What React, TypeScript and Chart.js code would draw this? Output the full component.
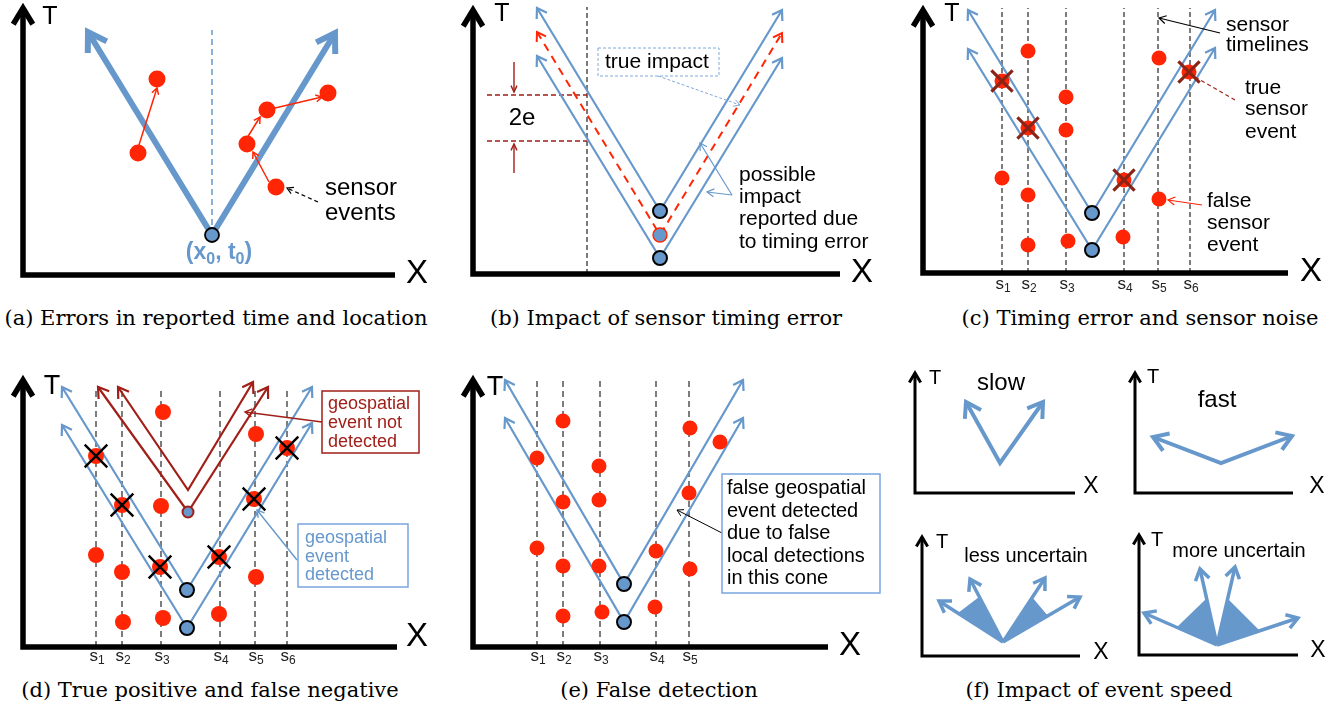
import React, { useEffect, useRef } from "react";
import { Chart, registerables } from "chart.js";

Chart.register(...registerables);

type Pt = [number, number];
type Cone = { left: Pt; apex: Pt; right: Pt };

const BLUE = "#6798CC";
const PALE_BLUE = "#7FA8DA";
const RED = "#FF2505";
const DARK_RED = "#A01F18";
const CROSS_RED = "#8A2416";
const INK = "#000000";
const SENSOR_INK = "#262626";
const SANS = "'Liberation Sans', Arial, Helvetica, sans-serif";
const SERIF = "'DejaVu Serif', 'Liberation Serif', serif";

// ---------------- (a) errors in reported time and location ----------------
const A_AXIS: Pt[] = [[372, 0], [0, 0], [0, 267]];
const A_CONE: Cone = { left: [65, 243], apex: [189, 40], right: [312, 242] };
const A_ORIGIN_LINE: Pt[] = [[189, 40], [189, 245]];
const A_EVENTS: Pt[] = [[134, 196], [115, 122], [244, 165], [305, 182], [224, 131], [253, 88]];
const A_SHIFTS: Pt[][] = [
  [[115, 127], [134, 187]],
  [[224, 137], [237, 158]],
  [[252, 167], [299, 178]],
  [[246, 93], [230, 123]],
];
const A_POINTER: Pt[] = [[295, 73], [264, 87]];
const A_LABEL = ["sensor", "events"];
const A_LABEL_T = [87, 62];

// ---------------- (b) impact of sensor timing error ----------------
const B_AXIS: Pt[] = [[367, 0], [0, 0], [0, 264]];
const B_SENSOR: Pt[] = [[114, 0], [114, 267]];
const B_UPPER: Cone = { left: [64, 266], apex: [187, 63], right: [309, 264] };
const B_LOWER: Cone = { left: [64, 218], apex: [187, 16], right: [309, 216] };
const B_TRUE: Cone = { left: [64, 242], apex: [187, 39], right: [309, 241] };
const B_ERR_LEVELS = [179, 133];
const B_ERR_ARROWS: Pt[][] = [
  [[41, 212], [41, 182]],
  [[41, 101], [41, 130]],
];
const B_TRUE_POINTER: Pt[] = [[185, 198], [267, 169]];
const B_POSSIBLE_POINTERS: Pt[][] = [
  [[259, 79], [227, 131]],
  [[259, 79], [234, 82]],
];
const B_POSSIBLE_LINES = ["possible", "impact", "reported due", "to timing error"];
const B_POSSIBLE_T = [99, 77, 55, 32];

// ---------------- (c) timing error and sensor noise ----------------
const C_AXIS: Pt[] = [[365, 0], [0, 0], [0, 263]];
const C_SENSOR_X = [79, 105, 143, 201, 235, 267];
const C_SENSOR_LABELS = ["s_1", "s_2", "s_3", "s_4", "s_5", "s_6"];
const C_UPPER: Cone = { left: [45, 263], apex: [169, 60], right: [292, 263] };
const C_LOWER: Cone = { left: [45, 224], apex: [169, 23], right: [292, 225] };
const C_FALSE_EVENTS: Pt[] = [
  [105, 222], [236, 215], [143, 176], [143, 143], [79, 95],
  [105, 78], [236, 74], [105, 28], [145, 32], [200, 36],
];
const C_TRUE_EVENTS: Pt[] = [[79, 192], [105, 145], [201, 93], [266, 201]];
const C_TIMELINE_POINTER: Pt[] = [[297, 240], [236, 255]];
const C_TRUE_POINTER: Pt[] = [[312, 173], [272, 196]];
const C_FALSE_POINTER: Pt[] = [[279, 68], [245, 73]];

// ---------------- (d) true positive and false negative ----------------
const D_AXIS: Pt[] = [[374, 0], [0, 0], [0, 267]];
const D_SENSOR_X = [73, 99, 138, 197, 232, 264];
const D_SENSOR_LABELS = ["s_1", "s_2", "s_3", "s_4", "s_5", "s_6"];
const D_UPPER: Cone = { left: [39, 260], apex: [164, 57], right: [289, 260] };
const D_LOWER: Cone = { left: [39, 222], apex: [164, 19], right: [289, 224] };
const D_MISSED_A: Cone = { left: [95, 260], apex: [165, 157], right: [230, 265] };
const D_MISSED_B: Cone = { left: [75, 260], apex: [165, 135], right: [245, 260] };
const D_FALSE_EVENTS: Pt[] = [
  [140, 235], [233, 213], [138, 141], [73, 92], [99, 75],
  [233, 70], [100, 25], [140, 29], [196, 33],
];
const D_TRUE_EVENTS: Pt[] = [[73, 191], [99, 142], [137, 80], [196, 90], [231, 148], [264, 199]];
const D_MISSED_POINTER: Pt[] = [[299, 225], [222, 235]];
const D_DETECTED_POINTER: Pt[] = [[274, 87], [234, 137]];
const D_MISSED_LINES = ["geospatial", "event not", "detected"];
const D_MISSED_T = [243, 224, 205];
const D_DETECTED_LINES = ["geospatial", "event", "detected"];
const D_DETECTED_T = [109, 90, 72];

// ---------------- (e) false detection ----------------
const E_AXIS: Pt[] = [[355, 0], [0, 0], [0, 267]];
const E_SENSOR_X = [64, 90, 127, 183, 216];
const E_SENSOR_LABELS = ["s_1", "s_2", "s_3", "s_4", "s_5"];
const E_UPPER: Cone = { left: [32, 267], apex: [151, 63], right: [270, 267] };
const E_LOWER: Cone = { left: [32, 229], apex: [151, 25], right: [270, 229] };
const E_EVENTS: Pt[] = [
  [90, 226], [64, 189], [126, 181], [90, 145], [126, 147], [64, 99],
  [90, 81], [126, 81], [90, 31], [129, 35], [217, 219], [247, 205],
  [216, 154], [183, 96], [217, 78], [182, 40],
];
const E_POINTER: Pt[] = [[249, 114], [204, 137]];
const E_LINES = ["false geospatial", "event detected", "due to false", "local detections", "in this cone"];
const E_LINES_T = [159, 136, 114, 91, 69];

// ---------------- (f) impact of event speed ----------------
const F1_AXIS: Pt[] = [[160, 0], [0, 0], [0, 120]];
const F1_CONE: Cone = { left: [51, 91], apex: [85, 30], right: [128, 91] };
const F2_AXIS: Pt[] = [[158, 0], [0, 0], [0, 120]];
const F2_CONE: Cone = { left: [18, 56], apex: [86, 30], right: [157, 57] };
const F3_AXIS: Pt[] = [[158, 0], [0, 0], [0, 119]];
const F3_APEX: Pt = [81, 14];
const F3_TIPS: Pt[] = [[17, 55], [48, 77], [123, 78], [158, 59]];
const F3_SPREAD: Pt[][] = [
  [[81, 14], [36, 43], [57, 59]],
  [[81, 14], [110, 59], [126, 40]],
];
const F4_AXIS: Pt[] = [[159, 0], [0, 0], [0, 120]];
const F4_APEX: Pt = [78, 10];
const F4_TIPS: Pt[] = [[5, 42], [61, 86], [96, 88], [159, 37]];
const F4_SPREAD: Pt[][] = [
  [[78, 10], [38, 28], [68, 57]],
  [[78, 10], [88, 57], [121, 24]],
];

const CAPTIONS = [
  { text: "(a) Errors in reported time and location", cx: 216, cy: 318 },
  { text: "(b) Impact of sensor timing error", cx: 666, cy: 318 },
  { text: "(c) Timing error and sensor noise", cx: 1140, cy: 318 },
  { text: "(d) True positive and false negative", cx: 210, cy: 690 },
  { text: "(e) False detection", cx: 659, cy: 690 },
  { text: "(f) Impact of event speed", cx: 1099, cy: 690 },
];

// ---------------- helpers ----------------
type TextNote = { x: number; t: number; text: string; size: number; color?: string; align?: "left" | "center"; bold?: boolean };
type BoxNote = { x1: number; t1: number; x2: number; t2: number; color: string; width: number; dash?: number[] };
type Spec = {
  left: number; top: number; w: number; h: number; ox: number; oy: number;
  datasets: any[]; texts: TextNote[]; boxes: BoxNote[];
};

const toXY = (pts: Pt[]) => pts.map(([x, y]) => ({ x, y }));

function line(pts: Pt[], color: string, width: number, opts: any = {}) {
  return {
    data: toXY(pts),
    showLine: true,
    borderColor: color,
    backgroundColor: color,
    borderWidth: width,
    pointRadius: 0,
    pointHoverRadius: 0,
    fill: false,
    tension: 0,
    borderJoinStyle: "miter",
    borderCapStyle: "butt",
    clip: false,
    ...opts,
  };
}

function dots(pts: Pt[], color: string, radius: number, opts: any = {}) {
  return {
    data: toXY(pts),
    showLine: false,
    pointRadius: radius,
    pointHoverRadius: radius,
    pointBackgroundColor: color,
    pointBorderColor: color,
    pointBorderWidth: 0,
    clip: false,
    ...opts,
  };
}

function polygon(pts: Pt[], color: string) {
  return { data: toXY(pts), showLine: false, pointRadius: 0, pointHoverRadius: 0, polyFill: color, clip: false };
}

const vee = (c: Cone): Pt[] => [c.left, c.apex, c.right];

function axisSet(pts: Pt[], width: number, head: number) {
  return line(pts, INK, width, { arrowLen: head, arrowAngle: 31 });
}

function sensorLines(xs: number[], top: number, dash: number[]) {
  return xs.map((x) => line([[x, 0], [x, top]], SENSOR_INK, 1.2, { borderDash: dash }));
}

function block(lines: string[], x: number, ts: number[], size: number, color = INK): TextNote[] {
  return lines.map((text, i) => ({ x, t: ts[i], text, size, color, align: "left" }));
}

function sensorLabels(xs: number[], labels: string[], t: number): TextNote[] {
  return xs.map((x, i) => ({ x: x + 1, t, text: labels[i], size: 17, color: "#222", align: "center" }));
}

function axisLabels(tx: number, tt: number, tSize: number, xx: number, xt: number, xSize: number): TextNote[] {
  return [
    { x: tx, t: tt, text: "T", size: tSize, align: "center" },
    { x: xx, t: xt, text: "X", size: xSize, align: "center" },
  ];
}

function parseRich(s: string) {
  const segs: { text: string; sub: boolean }[] = [];
  let buf = "";
  for (let i = 0; i < s.length; i++) {
    if (s[i] === "_" && i + 1 < s.length) {
      if (buf) segs.push({ text: buf, sub: false });
      buf = "";
      segs.push({ text: s[i + 1], sub: true });
      i++;
    } else buf += s[i];
  }
  if (buf) segs.push({ text: buf, sub: false });
  return segs;
}

function drawRich(ctx: CanvasRenderingContext2D, n: TextNote, px: number, py: number) {
  const weight = n.bold ? "bold" : "normal";
  const main = `${weight} ${n.size}px ${SANS}`;
  const sub = `${weight} ${Math.round(n.size * 0.7)}px ${SANS}`;
  const segs = parseRich(n.text);
  let total = 0;
  const widths = segs.map((sg) => {
    ctx.font = sg.sub ? sub : main;
    const w = ctx.measureText(sg.text).width;
    total += w;
    return w;
  });
  let cx = n.align === "center" ? px - total / 2 : px;
  ctx.textAlign = "left";
  ctx.textBaseline = "middle";
  ctx.fillStyle = n.color || INK;
  segs.forEach((sg, i) => {
    ctx.font = sg.sub ? sub : main;
    ctx.fillText(sg.text, cx, sg.sub ? py + n.size * 0.3 : py);
    cx += widths[i];
  });
}

const polyPlugin = {
  id: "polyFill",
  beforeDatasetsDraw(chart: any) {
    const ctx = chart.ctx;
    chart.data.datasets.forEach((ds: any, i: number) => {
      if (!ds.polyFill) return;
      const pts = chart.getDatasetMeta(i).data;
      if (pts.length < 3) return;
      ctx.save();
      ctx.beginPath();
      pts.forEach((p: any, k: number) => (k === 0 ? ctx.moveTo(p.x, p.y) : ctx.lineTo(p.x, p.y)));
      ctx.closePath();
      ctx.fillStyle = ds.polyFill;
      ctx.fill();
      ctx.restore();
    });
  },
};

const arrowPlugin = {
  id: "arrowheads",
  afterDatasetsDraw(chart: any) {
    const ctx = chart.ctx as CanvasRenderingContext2D;
    chart.data.datasets.forEach((ds: any, i: number) => {
      if (!ds.arrowLen) return;
      const pts = chart.getDatasetMeta(i).data;
      if (pts.length < 2) return;
      const a = ((ds.arrowAngle ?? 33) * Math.PI) / 180;
      const L = ds.arrowLen;
      const head = (tip: any, from: any) => {
        const dx = tip.x - from.x;
        const dy = tip.y - from.y;
        const len = Math.hypot(dx, dy) || 1;
        const bx = -dx / len;
        const by = -dy / len;
        const r1x = bx * Math.cos(a) - by * Math.sin(a);
        const r1y = bx * Math.sin(a) + by * Math.cos(a);
        const r2x = bx * Math.cos(a) + by * Math.sin(a);
        const r2y = -bx * Math.sin(a) + by * Math.cos(a);
        ctx.beginPath();
        ctx.moveTo(tip.x + r1x * L, tip.y + r1y * L);
        ctx.lineTo(tip.x, tip.y);
        ctx.lineTo(tip.x + r2x * L, tip.y + r2y * L);
        ctx.stroke();
      };
      ctx.save();
      ctx.setLineDash([]);
      ctx.strokeStyle = ds.borderColor;
      ctx.lineWidth = ds.arrowWidth ?? ds.borderWidth;
      ctx.lineJoin = "miter";
      ctx.lineCap = "butt";
      head(pts[pts.length - 1], pts[pts.length - 2]);
      if (ds.arrowBoth) head(pts[0], pts[1]);
      ctx.restore();
    });
  },
};

function notesPlugin(spec: Spec) {
  return {
    id: "notes",
    afterDraw(chart: any) {
      const ctx = chart.ctx as CanvasRenderingContext2D;
      const xs = chart.scales.x;
      const ys = chart.scales.y;
      ctx.save();
      spec.boxes.forEach((b) => {
        const x1 = xs.getPixelForValue(b.x1);
        const x2 = xs.getPixelForValue(b.x2);
        const y1 = ys.getPixelForValue(b.t1);
        const y2 = ys.getPixelForValue(b.t2);
        ctx.setLineDash(b.dash || []);
        ctx.strokeStyle = b.color;
        ctx.lineWidth = b.width;
        ctx.strokeRect(x1, y1, x2 - x1, y2 - y1);
      });
      ctx.setLineDash([]);
      spec.texts.forEach((n) => drawRich(ctx, n, xs.getPixelForValue(n.x), ys.getPixelForValue(n.t)));
      ctx.restore();
    },
  };
}

// ---------------- panel specs ----------------
const SPEC_A: Spec = {
  left: 0, top: 0, w: 445, h: 300, ox: 23, oy: 275,
  datasets: [
    axisSet(A_AXIS, 5.5, 19),
    line(A_ORIGIN_LINE, BLUE, 1.5, { borderDash: [6, 4] }),
    line(vee(A_CONE), BLUE, 6, { arrowLen: 21, arrowAngle: 32, arrowBoth: true }),
    ...A_SHIFTS.map((s) => line(s, RED, 1.5, { arrowLen: 7, arrowAngle: 30 })),
    dots(A_EVENTS, RED, 8.5),
    dots([A_CONE.apex], BLUE, 7, { pointBorderColor: INK, pointBorderWidth: 1.8 }),
    line(A_POINTER, INK, 1.2, { borderDash: [4, 3], arrowLen: 7, arrowAngle: 30 }),
  ],
  texts: [
    ...axisLabels(27, 258, 25, 394, 1, 33),
    ...block(A_LABEL, 302, A_LABEL_T, 24),
    { x: 196, t: 22, text: "(x_0, t_0)", size: 23, color: BLUE, align: "center", bold: true },
  ],
  boxes: [],
};

const SPEC_B: Spec = {
  left: 445, top: 0, w: 445, h: 300, ox: 28, oy: 274,
  datasets: [
    line(B_SENSOR, "#333", 1.3, { borderDash: [5, 3] }),
    ...B_ERR_LEVELS.map((t) => line([[14, t], [114, t]], DARK_RED, 1.4, { borderDash: [5, 3] })),
    ...B_ERR_ARROWS.map((s) => line(s, DARK_RED, 1.4, { arrowLen: 7, arrowAngle: 25 })),
    axisSet(B_AXIS, 5.5, 19),
    line(vee(B_UPPER), BLUE, 2.2, { arrowLen: 11, arrowBoth: true }),
    line(vee(B_LOWER), BLUE, 2.2, { arrowLen: 11, arrowBoth: true }),
    line(vee(B_TRUE), RED, 2, { borderDash: [8, 6], arrowLen: 10, arrowBoth: true }),
    dots([B_UPPER.apex, B_LOWER.apex], BLUE, 7, { pointBorderColor: INK, pointBorderWidth: 2 }),
    dots([B_TRUE.apex], BLUE, 7, { pointBorderColor: RED, pointBorderWidth: 1.4 }),
    line(B_TRUE_POINTER, PALE_BLUE, 1, { borderDash: [3, 2], arrowLen: 7, arrowAngle: 30 }),
    ...B_POSSIBLE_POINTERS.map((s) => line(s, BLUE, 1.2, { arrowLen: 8, arrowAngle: 30 })),
  ],
  texts: [
    ...axisLabels(29, 260, 25, 389, 1, 33),
    { x: 49, t: 156, text: "2e", size: 24, align: "center" },
    { x: 132, t: 212, text: "true impact", size: 21 },
    ...block(B_POSSIBLE_LINES, 266, B_POSSIBLE_T, 21),
  ],
  boxes: [{ x1: 125, t1: 226, x2: 246, t2: 198, color: PALE_BLUE, width: 1, dash: [3, 2] }],
};

const SPEC_C: Spec = {
  left: 890, top: 0, w: 450, h: 300, ox: 33, oy: 273,
  datasets: [
    ...sensorLines(C_SENSOR_X, 265, [5, 3]),
    axisSet(C_AXIS, 5.5, 19),
    line(vee(C_UPPER), BLUE, 2.2, { arrowLen: 11, arrowBoth: true }),
    line(vee(C_LOWER), BLUE, 2.2, { arrowLen: 11, arrowBoth: true }),
    dots(C_FALSE_EVENTS, RED, 7.5),
    dots(C_TRUE_EVENTS, RED, 7.5),
    dots(C_TRUE_EVENTS, CROSS_RED, 15, { pointStyle: "crossRot", pointBorderWidth: 3.2, pointBackgroundColor: "rgba(0,0,0,0)" }),
    dots([C_UPPER.apex, C_LOWER.apex], BLUE, 7, { pointBorderColor: INK, pointBorderWidth: 2 }),
    line(C_TIMELINE_POINTER, INK, 1.2, { arrowLen: 8, arrowAngle: 30 }),
    line(C_TRUE_POINTER, DARK_RED, 1.2, { borderDash: [4, 3] }),
    line(C_FALSE_POINTER, RED, 1.2, { arrowLen: 8, arrowAngle: 30 }),
  ],
  texts: [
    ...axisLabels(29, 259, 25, 388, 1, 33),
    ...sensorLabels(C_SENSOR_X, C_SENSOR_LABELS, -11),
    ...block(["sensor", "timelines"], 303, [248, 228], 21),
    ...block(["true", "sensor", "event"], 322, [185, 164, 141], 21),
    ...block(["false", "sensor", "event"], 284, [72, 50, 28], 21),
  ],
  boxes: [],
};

const SPEC_D: Spec = {
  left: 0, top: 340, w: 445, h: 330, ox: 23, oy: 307,
  datasets: [
    ...sensorLines(D_SENSOR_X, 260, [6, 4]),
    axisSet(D_AXIS, 5.5, 19),
    line(vee(D_UPPER), BLUE, 2.2, { arrowLen: 11, arrowBoth: true }),
    line(vee(D_LOWER), BLUE, 2.2, { arrowLen: 11, arrowBoth: true }),
    line(vee(D_MISSED_A), DARK_RED, 2.2, { arrowLen: 12, arrowBoth: true }),
    line(vee(D_MISSED_B), DARK_RED, 2.2, { arrowLen: 12, arrowBoth: true }),
    dots(D_FALSE_EVENTS, RED, 8),
    dots(D_TRUE_EVENTS, RED, 8),
    dots(D_TRUE_EVENTS, INK, 16, { pointStyle: "crossRot", pointBorderWidth: 2.4, pointBackgroundColor: "rgba(0,0,0,0)" }),
    dots([D_MISSED_B.apex], BLUE, 5.5, { pointBorderColor: DARK_RED, pointBorderWidth: 2 }),
    dots([D_UPPER.apex, D_LOWER.apex], BLUE, 7, { pointBorderColor: INK, pointBorderWidth: 2 }),
    line(D_MISSED_POINTER, DARK_RED, 1.4, { arrowLen: 8, arrowAngle: 30 }),
    line(D_DETECTED_POINTER, BLUE, 1.4, { arrowLen: 8, arrowAngle: 30 }),
  ],
  texts: [
    ...axisLabels(29, 260, 27, 394, 10, 33),
    ...sensorLabels(D_SENSOR_X, D_SENSOR_LABELS, -9),
    ...block(D_MISSED_LINES, 305, D_MISSED_T, 18, DARK_RED),
    ...block(D_DETECTED_LINES, 282, D_DETECTED_T, 18, BLUE),
  ],
  boxes: [
    { x1: 299, t1: 256, x2: 396, t2: 194, color: DARK_RED, width: 1.5 },
    { x1: 275, t1: 123, x2: 385, t2: 60, color: "#7AA5E0", width: 1.5 },
  ],
};

const SPEC_E: Spec = {
  left: 445, top: 340, w: 445, h: 330, ox: 28, oy: 307,
  datasets: [
    ...sensorLines(E_SENSOR_X, 267, [6, 4]),
    axisSet(E_AXIS, 5.5, 19),
    line(vee(E_UPPER), BLUE, 2.2, { arrowLen: 11, arrowBoth: true }),
    line(vee(E_LOWER), BLUE, 2.2, { arrowLen: 11, arrowBoth: true }),
    dots(E_EVENTS, RED, 7.5),
    dots([E_UPPER.apex, E_LOWER.apex], BLUE, 7, { pointBorderColor: INK, pointBorderWidth: 2 }),
    line(E_POINTER, INK, 1, { arrowLen: 7, arrowAngle: 30 }),
  ],
  texts: [
    ...axisLabels(22, 259, 27, 377, 1, 33),
    ...sensorLabels(E_SENSOR_X, E_SENSOR_LABELS, -9),
    ...block(E_LINES, 254, E_LINES_T, 20),
  ],
  boxes: [{ x1: 249, t1: 173, x2: 407, t2: 54, color: "#7AA5E0", width: 1.5 }],
};

const SPEC_F1: Spec = {
  left: 890, top: 355, w: 220, h: 160, ox: 25, oy: 138,
  datasets: [
    axisSet(F1_AXIS, 3, 11),
    line(vee(F1_CONE), BLUE, 4, { arrowLen: 17, arrowAngle: 33, arrowBoth: true }),
  ],
  texts: [...axisLabels(20, 115, 20, 176, 6, 23), { x: 86, t: 110, text: "slow", size: 24, align: "center" }],
  boxes: [],
};

const SPEC_F2: Spec = {
  left: 1110, top: 355, w: 230, h: 160, ox: 25, oy: 138,
  datasets: [
    axisSet(F2_AXIS, 3, 11),
    line(vee(F2_CONE), BLUE, 4, { arrowLen: 17, arrowAngle: 33, arrowBoth: true }),
  ],
  texts: [...axisLabels(18, 116, 20, 182, 6, 23), { x: 82, t: 93, text: "fast", size: 24, align: "center" }],
  boxes: [],
};

const SPEC_F3: Spec = {
  left: 890, top: 515, w: 220, h: 160, ox: 32, oy: 141,
  datasets: [
    axisSet(F3_AXIS, 3, 11),
    ...F3_SPREAD.map((p) => polygon(p, BLUE)),
    ...F3_TIPS.map((tip) => line([F3_APEX, tip], BLUE, 3.5, { arrowLen: 13, arrowAngle: 33 })),
  ],
  texts: [...axisLabels(20, 114, 20, 179, 3, 23), { x: 104, t: 100, text: "less uncertain", size: 20, align: "center" }],
  boxes: [],
};

const SPEC_F4: Spec = {
  left: 1110, top: 515, w: 230, h: 160, ox: 29, oy: 140,
  datasets: [
    axisSet(F4_AXIS, 3, 11),
    ...F4_SPREAD.map((p) => polygon(p, BLUE)),
    ...F4_TIPS.map((tip) => line([F4_APEX, tip], BLUE, 3.5, { arrowLen: 13, arrowAngle: 33 })),
  ],
  texts: [...axisLabels(18, 115, 20, 179, 4, 23), { x: 100, t: 104, text: "more uncertain", size: 20, align: "center" }],
  boxes: [],
};

const SPECS = [SPEC_A, SPEC_B, SPEC_C, SPEC_D, SPEC_E, SPEC_F1, SPEC_F2, SPEC_F3, SPEC_F4];

function Panel({ spec }: { spec: Spec }) {
  const ref = useRef<HTMLCanvasElement>(null);
  useEffect(() => {
    const canvas = ref.current;
    if (!canvas) return;
    const n = spec.datasets.length;
    const datasets = spec.datasets.map((d, i) => ({ ...d, order: n - i }));
    const chart = new Chart(canvas, {
      type: "scatter",
      data: { datasets },
      options: {
        responsive: false,
        maintainAspectRatio: false,
        animation: false,
        events: [],
        layout: { padding: 0, autoPadding: false },
        plugins: { legend: { display: false }, tooltip: { enabled: false }, title: { display: false } },
        scales: {
          x: { type: "linear", display: false, min: -spec.ox, max: spec.w - spec.ox },
          y: { type: "linear", display: false, min: -(spec.h - spec.oy), max: spec.oy },
        },
      } as any,
      plugins: [polyPlugin, arrowPlugin, notesPlugin(spec)],
    } as any);
    return () => chart.destroy();
  }, [spec]);
  return (
    <canvas
      ref={ref}
      width={spec.w}
      height={spec.h}
      style={{ position: "absolute", left: spec.left, top: spec.top, width: spec.w, height: spec.h }}
    />
  );
}

export default function App() {
  return (
    <div
      style={{
        position: "fixed",
        left: 0,
        top: 0,
        width: 1340,
        height: 706,
        background: "#ffffff",
        overflow: "hidden",
      }}
    >
      {SPECS.map((s, i) => (
        <Panel key={i} spec={s} />
      ))}
      {CAPTIONS.map((c, i) => (
        <div
          key={"cap" + i}
          style={{
            position: "absolute",
            left: c.cx - 300,
            top: c.cy - 13,
            width: 600,
            height: 26,
            lineHeight: "26px",
            textAlign: "center",
            fontFamily: SERIF,
            fontSize: 21,
            color: "#000",
            whiteSpace: "nowrap",
          }}
        >
          {c.text}
        </div>
      ))}
    </div>
  );
}
